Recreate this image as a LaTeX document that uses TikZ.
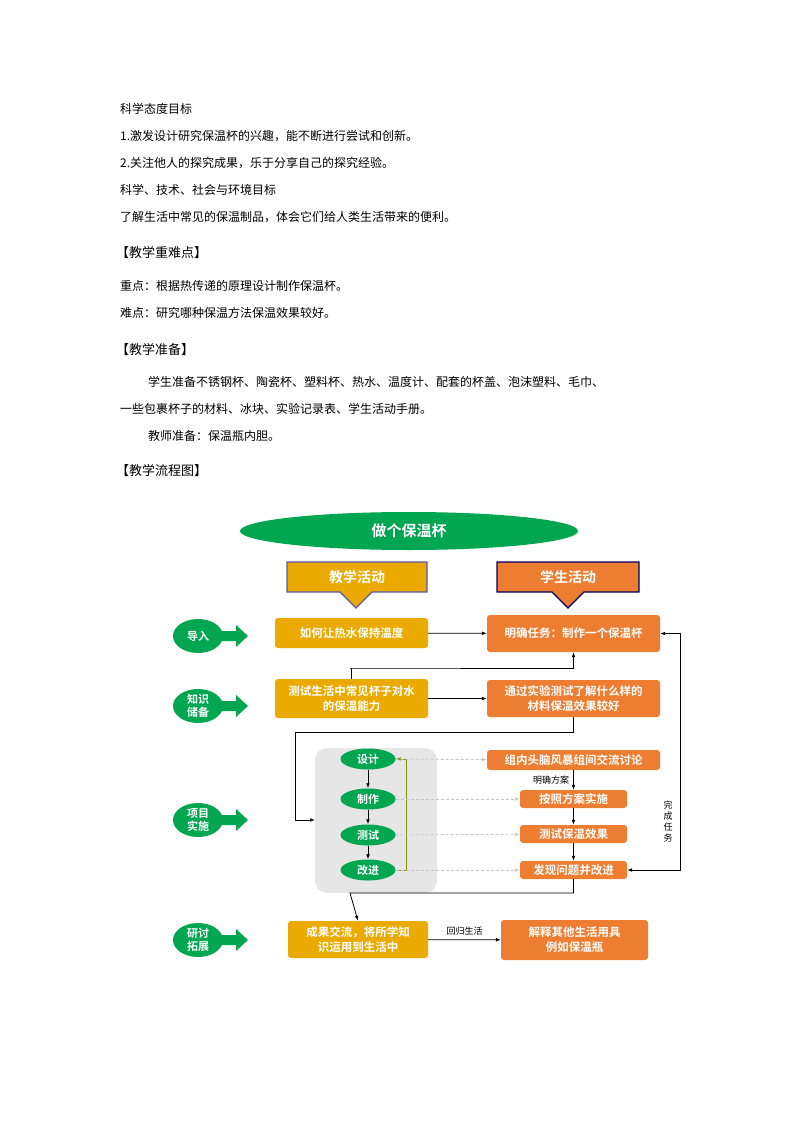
\documentclass[tikz,border=0pt]{standalone}
\usepackage{fontspec}
\setmainfont{Noto Sans CJK SC}
\newfontfamily\cjkbold[BoldFont=*]{Noto Sans CJK SC Bold}
\usetikzlibrary{shapes.geometric,arrows.meta,positioning}
\definecolor{dgreen}{RGB}{0,166,80}
\definecolor{gold}{RGB}{234,170,0}
\definecolor{orng}{RGB}{237,125,49}
\definecolor{panel}{RGB}{230,230,230}
\begin{document}
\begin{tikzpicture}[
        x=1pt, y=-1pt,
        every node/.style={inner sep=0pt},
        para/.style={anchor=west, font=\fontsize{12}{14}\selectfont},
        head/.style={anchor=west, font=\fontsize{13}{15}\selectfont},
        tbox/.style={fill=gold, rounded corners=3pt, text=white, align=center, font=\cjkbold\fontsize{11.5}{15}\selectfont},
        sbox/.style={fill=orng, rounded corners=3pt, text=white, align=center, font=\cjkbold\fontsize{11.5}{15}\selectfont},
        phase/.style={ellipse, fill=dgreen, text=white, align=center, minimum width=50pt, minimum height=34pt, font=\cjkbold\fontsize{11}{13}\selectfont},
        step/.style={},
        stepnode/.style={ellipse, fill=dgreen, text=white, minimum width=55pt, minimum height=21pt, font=\cjkbold\fontsize{11}{13}\selectfont},
        flow/.style={-{Latex[length=5pt]}, thick},
        dashflow/.style={-{Latex[length=5pt]}, densely dashed, gray!45, thick},
        small/.style={font=\fontsize{9}{11}\selectfont},
    ]
    \useasboundingbox (0,0) rectangle (794,1123);
    % text above the chart
    \node[para] at (120,109) {科学态度目标};
    \node[para] at (120,136) {1.激发设计研究保温杯的兴趣，能不断进行尝试和创新。};
    \node[para] at (120,163) {2.关注他人的探究成果，乐于分享自己的探究经验。};
    \node[para] at (120,190) {科学、技术、社会与环境目标};
    \node[para] at (120,217) {了解生活中常见的保温制品，体会它们给人类生活带来的便利。};
    \node[head] at (116,253) {【教学重难点】};
    \node[para] at (120,286) {重点：根据热传递的原理设计制作保温杯。};
    \node[para] at (120,313) {难点：研究哪种保温方法保温效果较好。};
    \node[head] at (116,350) {【教学准备】};
    \node[para] at (148,382) {学生准备不锈钢杯、陶瓷杯、塑料杯、热水、温度计、配套的杯盖、泡沫塑料、毛巾、};
    \node[para] at (120,409) {一些包裹杯子的材料、冰块、实验记录表、学生活动手册。};
    \node[para] at (148,436) {教师准备：保温瓶内胆。};
    \node[head] at (116,471) {【教学流程图】};
    % title and column heads
    \node[ellipse, fill=dgreen, minimum width=338pt, minimum height=38pt, text=white, font=\cjkbold\fontsize{15}{17}\selectfont] (title) at (409,531) {做个保温杯};
    \fill[gold, draw=blue!30!gray, line width=1.2pt] (287,562) -- (427,562) -- (427,592) -- (372,592) -- (356,608) -- (340,592) -- (287,592) -- cycle;
    \node[text=white, font=\cjkbold\fontsize{14}{16}\selectfont] (teach) at (357,577) {教学活动};
    \fill[orng, draw=blue!40!black, line width=1.2pt] (497,562) -- (639,562) -- (639,592) -- (584,592) -- (568,608) -- (552,592) -- (497,592) -- cycle;
    \node[text=white, font=\cjkbold\fontsize{14}{16}\selectfont] (learn) at (568,577) {学生活动};
    % phases
    \foreach \name/\txt/\y in {p1/导入/636, p2/知识\\储备/706, p3/项目\\实施/820, p4/研讨\\拓展/940} {
        \fill[dgreen] (215,\y-5) -- (236,\y-5) -- (236,\y-11) -- (248,\y) -- (236,\y+11) -- (236,\y+5) -- (215,\y+5) -- cycle;
        \node[phase] (\name) at (198,\y) {\txt};
    }
    % boxes
    \node[tbox, minimum width=153pt, minimum height=30pt] (q) at (351.5,633) {如何让热水保持温度};
    \node[sbox, minimum width=173pt, minimum height=37pt] (task) at (573.5,633.5) {明确任务：制作一个保温杯};
    \node[tbox, minimum width=153pt, minimum height=39pt] (test) at (351.5,698.5) {测试生活中常见杯子对水\\的保温能力};
    \node[sbox, minimum width=173pt, minimum height=37pt] (know) at (573.5,698.5) {通过实验测试了解什么样的\\材料保温效果较好};
    \fill[panel, rounded corners=12pt] (315,748) rectangle (437,893);
    \node[stepnode] (s1) at (368,759) {设计};
    \node[stepnode] (s2) at (368,799) {制作};
    \node[stepnode] (s3) at (368,835) {测试};
    \node[stepnode] (s4) at (368,870) {改进};
    \node[sbox, minimum width=173pt, minimum height=20pt] (r1) at (573.5,760) {组内头脑风暴组间交流讨论};
    \node[sbox, minimum width=107pt, minimum height=18pt] (r2) at (573.5,799) {按照方案实施};
    \node[sbox, minimum width=107pt, minimum height=18pt] (r3) at (573.5,834) {测试保温效果};
    \node[sbox, minimum width=107pt, minimum height=18pt] (r4) at (573.5,870) {发现问题并改进};
    \node[tbox, minimum width=140pt, minimum height=37pt] (share) at (358,939.5) {成果交流，将所学知\\识运用到生活中};
    \node[sbox, minimum width=147pt, minimum height=40pt] (apply) at (574.5,940) {解释其他生活用具\\例如保温瓶};
    % connectors
    \draw[flow] (q) -- (task);
    \draw[flow] (test) -- (know);
    \draw[flow] (test.north) |- (350,668) -| (task.south);
    \draw[flow] (know.south) |- (295,732) |- (315,820);
    \draw[flow] (s1) -- (s2);
    \draw[flow] (s2) -- (s3);
    \draw[flow] (s3) -- (s4);
    \draw[flow, olive!80!green] (s4.east) -- (406,870) -- (406,759) -- (s1.east);
    \draw[dashflow] (s1) -- (r1);
    \draw[dashflow] (s2) -- (r2);
    \draw[dashflow] (s3) -- (r3);
    \draw[dashflow] (s4) -- (r4);
    \draw[flow] (r1) -- node[small, left=4pt] {明确方案} (r2);
    \draw[flow] (r2) -- (r3);
    \draw[flow] (r3) -- (r4);
    \draw[flow, {Latex[length=5pt]}-{Latex[length=5pt]}] (task.east) -| (680,870) -- (r4.east);
    \node[small, align=center, font=\fontsize{9}{11}\selectfont] (done) at (668,822) {完\\成\\任\\务};
    \draw[flow] (r4.south) |- (350,893) -- (share.north);
    \draw[flow] (share) -- node[small, above=4pt] {回归生活} (apply);
\end{tikzpicture}
\end{document}
